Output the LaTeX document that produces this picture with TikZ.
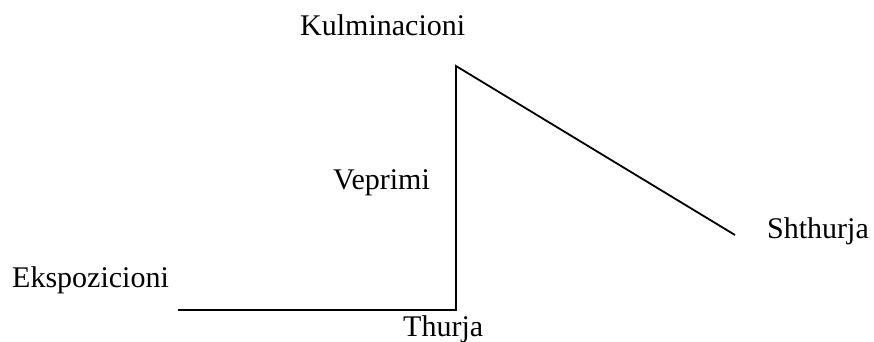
\documentclass[tikz,border=0pt]{standalone}
\usepackage{fontspec}
\setmainfont{Liberation Serif}
\begin{document}
\begin{tikzpicture}[x=1pt,y=-1pt,
  lbl/.style={inner sep=0pt,anchor=base west,font=\fontsize{30}{33}\selectfont},
  plot/.style={line width=1.8pt,line join=miter}]
\useasboundingbox (0,0) rectangle (874,341);
\coordinate (s) at (178,310);
\coordinate (b) at (456,310);
\coordinate (p) at (456,66);
\coordinate (e) at (735,235);
\draw[plot] (s) -- (b) -- (p) -- (e);
\node[lbl] (kul) at (300,35) {Kulminacioni};
\node[lbl] (vep) at (333,189) {Veprimi};
\node[lbl] (sht) at (767,238) {Shthurja};
\node[lbl] (eks) at (12,287) {Ekspozicioni};
\node[lbl] (thu) at (403,336) {Thurja};
\end{tikzpicture}
\end{document}
